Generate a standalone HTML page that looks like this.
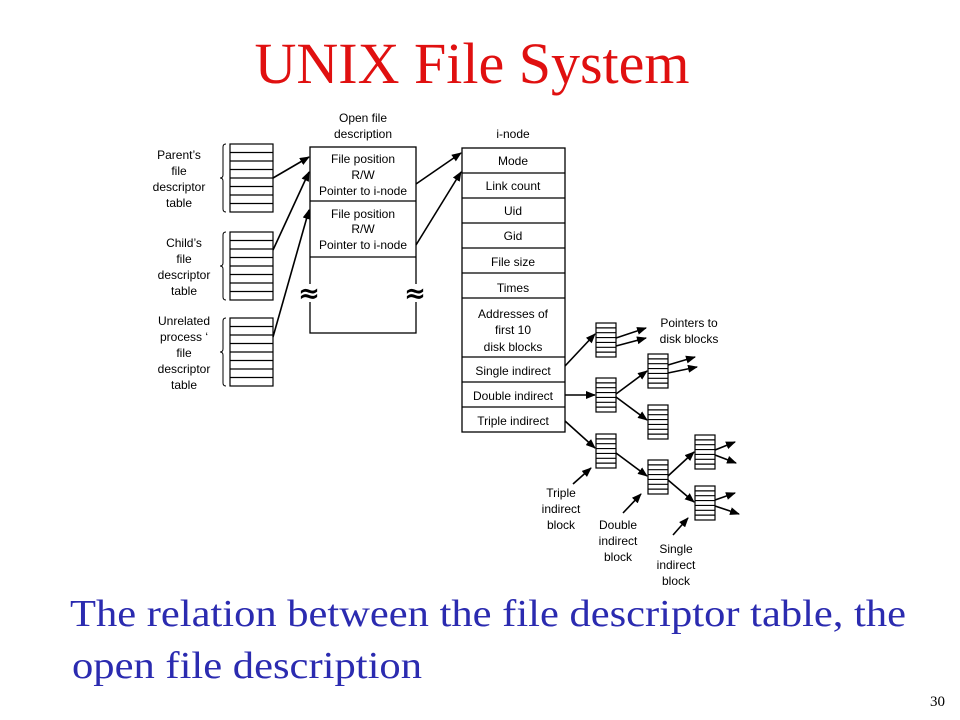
<!DOCTYPE html>
<html><head><meta charset="utf-8"><style>
html,body{margin:0;padding:0;background:#fff;}
svg{display:block;}
</style></head><body>
<svg width="960" height="720" viewBox="0 0 960 720" xmlns="http://www.w3.org/2000/svg">
<defs>
<marker id="ah" markerWidth="10" markerHeight="8" refX="9" refY="4" orient="auto" markerUnits="userSpaceOnUse">
<path d="M0,0 L10,4 L0,8 Z" fill="#000"/></marker>
<g id="tbl" fill="none" stroke="#000" stroke-width="1.2">
<rect x="0" y="0" width="43" height="68"/>
<path d="M0 8.5h43M0 17h43M0 25.5h43M0 34h43M0 42.5h43M0 51h43M0 59.5h43"/>
</g>
<g id="blk" fill="none" stroke="#000" stroke-width="1.2">
<rect x="0" y="0" width="20" height="34"/>
<path d="M0 4.86h20M0 9.71h20M0 14.57h20M0 19.43h20M0 24.29h20M0 29.14h20"/>
</g>
<path id="brace" d="M6 0 q-3 0 -3 3 v28 q0 3 -3 3 q3 0 3 3 v28 q0 3 3 3" fill="none" stroke="#000" stroke-width="1"/>
</defs>

<text x="472" y="83" text-anchor="middle" font-family="Liberation Serif, serif" font-size="58" fill="#e01010" textLength="435">UNIX File System</text>

<g font-family="Liberation Sans, sans-serif" font-size="12" fill="#000" text-anchor="middle">
<text x="179" y="159">Parent’s</text><text x="179" y="175">file</text><text x="179" y="191">descriptor</text><text x="179" y="207">table</text>
<text x="184" y="247">Child’s</text><text x="184" y="263">file</text><text x="184" y="279">descriptor</text><text x="184" y="295">table</text>
<text x="184" y="325">Unrelated</text><text x="184" y="341">process ‘</text><text x="184" y="357">file</text><text x="184" y="373">descriptor</text><text x="184" y="389">table</text>
<text x="363" y="122">Open file</text><text x="363" y="138">description</text>
<text x="513" y="138">i-node</text>
<text x="363" y="163">File position</text><text x="363" y="179">R/W</text><text x="363" y="195">Pointer to i-node</text>
<text x="363" y="218">File position</text><text x="363" y="233">R/W</text><text x="363" y="249">Pointer to i-node</text>
<text x="513" y="165">Mode</text><text x="513" y="190">Link count</text><text x="513" y="215">Uid</text><text x="513" y="240">Gid</text>
<text x="513" y="266">File size</text><text x="513" y="292">Times</text>
<text x="513" y="318">Addresses of</text><text x="513" y="334">first 10</text><text x="513" y="351">disk blocks</text>
<text x="513" y="375">Single indirect</text><text x="513" y="400">Double indirect</text><text x="513" y="425">Triple indirect</text>
<text x="689" y="327">Pointers to</text><text x="689" y="343">disk blocks</text>
<text x="561" y="497">Triple</text><text x="561" y="513">indirect</text><text x="561" y="529">block</text>
<text x="618" y="529">Double</text><text x="618" y="545">indirect</text><text x="618" y="561">block</text>
<text x="676" y="553">Single</text><text x="676" y="569">indirect</text><text x="676" y="585">block</text>
</g>

<use href="#tbl" x="230" y="144"/><use href="#tbl" x="230" y="232"/><use href="#tbl" x="230" y="318"/>
<use href="#brace" x="220" y="144"/><use href="#brace" x="220" y="232"/><use href="#brace" x="220" y="318"/>

<g fill="none" stroke="#000" stroke-width="1.3">
<rect x="310" y="147" width="106" height="186"/>
<path d="M310 201h106M310 257h106"/>
<rect x="462" y="148" width="103" height="284"/>
<path d="M462 173h103M462 198h103M462 223h103M462 248h103M462 273h103M462 298h103M462 357h103M462 382h103M462 407h103"/>
</g>
<rect x="298" y="284" width="22" height="18" fill="#fff"/>
<rect x="404" y="284" width="22" height="18" fill="#fff"/>
<g font-family="DejaVu Sans, sans-serif" font-size="26" font-weight="bold" text-anchor="middle"><text x="309" y="302">≈</text><text x="415" y="302">≈</text></g>

<use href="#blk" x="596" y="323"/><use href="#blk" x="596" y="378"/><use href="#blk" x="648" y="354"/>
<use href="#blk" x="648" y="405"/><use href="#blk" x="596" y="434"/><use href="#blk" x="648" y="460"/>
<use href="#blk" x="695" y="435"/><use href="#blk" x="695" y="486"/>

<g stroke="#000" stroke-width="1.6" marker-end="url(#ah)" fill="none">
<line x1="273" y1="178" x2="309" y2="157"/>
<line x1="273" y1="250" x2="309" y2="172"/>
<line x1="273" y1="337" x2="309" y2="210"/>
<line x1="416" y1="184" x2="461" y2="153"/>
<line x1="416" y1="245" x2="461" y2="172"/>
<line x1="565" y1="366" x2="595" y2="334"/>
<line x1="565" y1="395" x2="595" y2="395"/>
<line x1="565" y1="421" x2="595" y2="448"/>
<line x1="616" y1="338" x2="646" y2="328"/>
<line x1="616" y1="346" x2="646" y2="338"/>
<line x1="616" y1="394" x2="647" y2="371"/>
<line x1="616" y1="397" x2="647" y2="420"/>
<line x1="668" y1="365" x2="695" y2="357"/>
<line x1="668" y1="373" x2="697" y2="367"/>
<line x1="616" y1="453" x2="647" y2="476"/>
<line x1="668" y1="476" x2="694" y2="452"/>
<line x1="668" y1="480" x2="694" y2="502"/>
<line x1="715" y1="450" x2="735" y2="442"/>
<line x1="715" y1="455" x2="736" y2="463"/>
<line x1="715" y1="500" x2="735" y2="493"/>
<line x1="715" y1="506" x2="739" y2="514"/>
<line x1="573" y1="484" x2="591" y2="468"/>
<line x1="623" y1="513" x2="641" y2="494"/>
<line x1="673" y1="535" x2="688" y2="518"/>
</g>

<g font-family="Liberation Serif, serif" font-size="38" fill="#2b2bb0">
<text x="70" y="626" textLength="836" lengthAdjust="spacingAndGlyphs">The relation between the file descriptor table, the</text>
<text x="72" y="678" textLength="350" lengthAdjust="spacingAndGlyphs">open file description</text>
</g>
<text x="930" y="706" font-family="Liberation Serif, serif" font-size="15" fill="#000">30</text>
</svg>
</body></html>
